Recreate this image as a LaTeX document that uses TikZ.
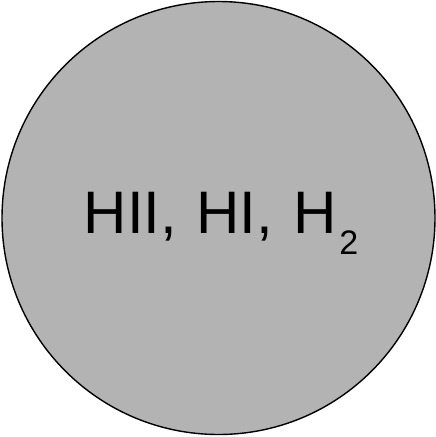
\documentclass[tikz,border=0pt]{standalone}
\usepackage{fontspec}
\setmainfont{Liberation Sans}
\definecolor{cloudgray}{RGB}{179,179,179}
\begin{document}
\begin{tikzpicture}[x=1pt,y=-1pt]

  % Fix the picture size
  \useasboundingbox (0,0) rectangle (436,437);

  % Centre of the cloud
  \coordinate (c) at (218.5,218);

  % The cloud itself
  \filldraw[fill=cloudgray, draw=black, line width=1.4pt] (c) circle[radius=216.5];

  % Phases of hydrogen
  \node[anchor=base west, inner sep=0pt, font=\fontsize{60}{60}\selectfont] (phases) at (83.5,233)
    {HII,\hspace{3pt} HI,\hspace{3pt} H\hspace{3pt}\raisebox{-21pt}{\fontsize{34}{34}\selectfont 2}};

\end{tikzpicture}
\end{document}
